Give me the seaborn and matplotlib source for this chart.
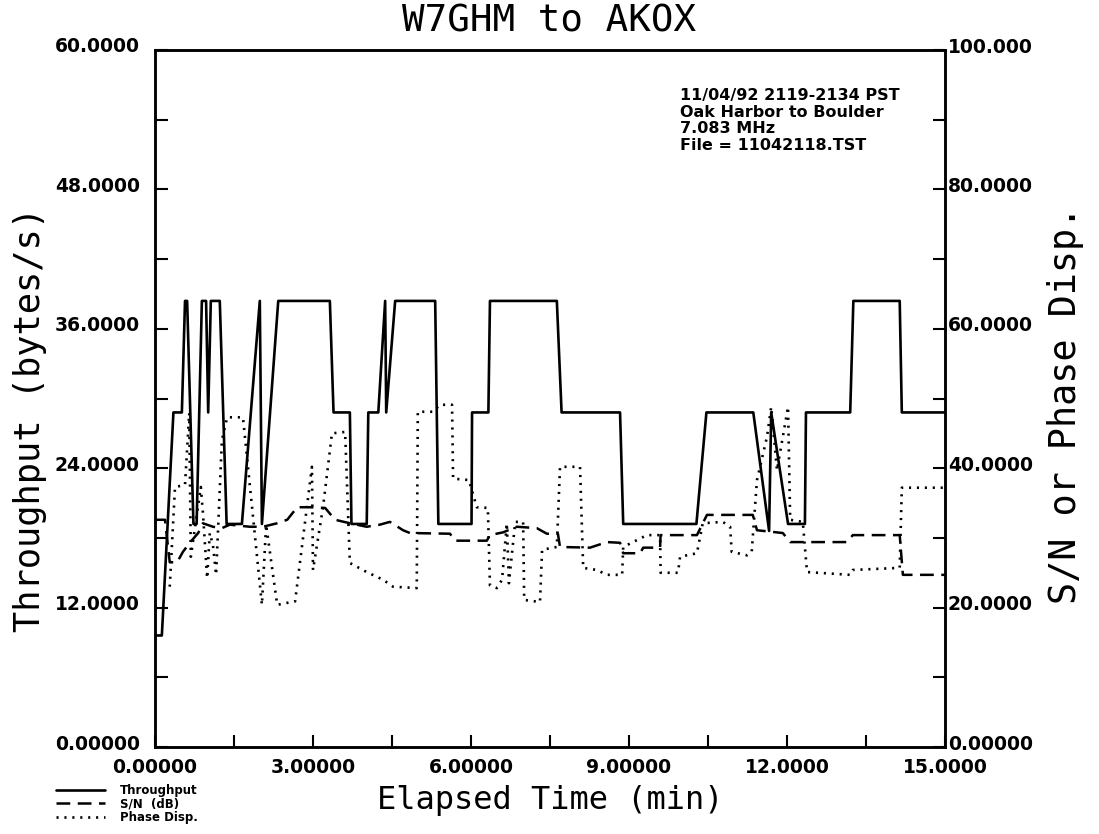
import numpy as np
import pandas as pd
import seaborn as sns
import matplotlib.pyplot as plt
import matplotlib.transforms as mtrans
from matplotlib.ticker import MultipleLocator, FuncFormatter

# throughput (bytes/s), left axis
tp_time = [0.00, 0.13, 0.35, 0.51, 0.57, 0.61, 0.73, 0.79, 0.89, 0.97, 1.01, 1.06, 1.23, 1.36,
           1.65, 1.99, 2.03, 2.34, 3.32, 3.39, 3.70, 3.73, 4.02, 4.05, 4.24, 4.37, 4.39, 4.56,
           5.32, 5.38, 6.01, 6.02, 6.33, 6.36, 7.63, 7.72, 8.83, 8.89, 10.28, 10.47, 11.36,
           11.66, 11.70, 12.02, 12.34, 12.36, 13.20, 13.26, 14.14, 14.18, 15.00]
tp_val = [9.6, 9.6, 28.8, 28.8, 38.4, 38.4, 19.2, 19.2, 38.4, 38.4, 28.8, 38.4, 38.4, 19.2,
          19.2, 38.4, 19.2, 38.4, 38.4, 28.8, 28.8, 19.2, 19.2, 28.8, 28.8, 38.4, 28.8, 38.4,
          38.4, 19.2, 19.2, 28.8, 28.8, 38.4, 38.4, 28.8, 28.8, 19.2, 19.2, 28.8, 28.8,
          18.6, 28.8, 19.2, 19.2, 28.8, 28.8, 38.4, 38.4, 28.8, 28.8]

# S/N (dB), right axis
sn_time = [0.00, 0.19, 0.28, 0.42, 0.53, 0.66, 0.82, 0.91, 1.10, 1.27, 1.42, 1.80, 2.05, 2.32,
           2.51, 2.70, 2.94, 3.23, 3.42, 3.70, 4.02, 4.27, 4.46, 4.71, 4.84, 5.60, 5.70, 6.30,
           6.36, 6.61, 6.87, 7.25, 7.44, 7.65, 7.69, 8.26, 8.58, 8.83, 8.89, 9.21, 9.27, 9.59,
           9.60, 10.29, 10.48, 11.35, 11.43, 11.92, 12.06, 13.14, 13.25, 14.14, 14.20, 15.00]
sn_val = [32.6, 32.6, 26.5, 26.5, 28.0, 29.3, 30.7, 32.1, 31.6, 31.4, 31.9, 31.6, 31.6, 32.1,
          32.6, 34.4, 34.4, 34.3, 32.6, 32.1, 31.6, 31.9, 32.3, 31.1, 30.7, 30.6, 29.6, 29.6,
          30.4, 30.8, 31.6, 31.4, 30.6, 30.6, 28.7, 28.6, 29.4, 29.3, 27.8, 27.8, 28.6, 28.6,
          30.4, 30.4, 33.3, 33.3, 31.1, 30.7, 29.4, 29.4, 30.4, 30.4, 24.7, 24.7]

# phase dispersion, right axis
ph_time = [0.28, 0.38, 0.57, 0.65, 0.68, 0.87, 0.91, 0.99, 1.04, 1.10, 1.16, 1.27, 1.37, 1.67,
           2.03, 2.11, 2.32, 2.66, 2.98, 3.00, 3.19, 3.36, 3.61, 3.70, 4.02, 4.33, 4.52, 4.97,
           4.99, 5.28, 5.41, 5.64, 5.66, 5.96, 6.11, 6.32, 6.36, 6.49, 6.59, 6.68, 6.72, 6.84,
           6.99, 7.01, 7.31, 7.35, 7.63, 7.69, 8.07, 8.13, 8.39, 8.58, 8.87, 8.89, 9.34, 9.59,
           9.60, 9.93, 9.97, 10.29, 10.40, 10.78, 10.92, 10.95, 11.24, 11.33, 11.43, 11.62,
           11.70, 11.81, 12.02, 12.06, 12.30, 12.38, 13.20, 13.25, 14.14, 14.18, 15.00]
ph_val = [23.0, 37.3, 37.6, 47.9, 27.3, 37.3, 33.6, 24.2, 30.7, 29.0, 24.7, 44.0, 47.3, 47.3,
          20.4, 31.9, 20.4, 20.9, 40.2, 25.4, 34.4, 45.0, 45.2, 26.4, 25.1, 24.0, 23.0, 22.8,
          48.1, 48.1, 49.1, 49.1, 38.5, 38.3, 34.4, 34.3, 23.2, 22.8, 24.0, 32.1, 23.5, 32.3,
          32.3, 21.1, 20.8, 28.3, 28.7, 40.2, 40.2, 25.7, 25.4, 24.7, 24.7, 28.7, 30.4, 30.4,
          25.0, 25.0, 27.3, 27.8, 32.1, 32.3, 31.6, 28.0, 27.5, 28.0, 38.3, 44.5,
          48.8, 39.7, 48.8, 32.6, 32.3, 25.1, 24.7, 25.4, 25.7, 37.2, 37.2]

tp = pd.DataFrame({'time': tp_time, 'val': tp_val})
sn = pd.DataFrame({'time': sn_time, 'val': sn_val})
ph = pd.DataFrame({'time': ph_time, 'val': ph_val})

sns.set_style('ticks')
plt.rcParams.update({'text.color': 'black', 'axes.labelcolor': 'black',
                     'xtick.color': 'black', 'ytick.color': 'black'})
mono = 'DejaVu Sans Mono'

fig = plt.figure(figsize=(10.99, 8.34), dpi=100)
ax = fig.add_axes([155 / 1099, 1 - 747 / 834, 790 / 1099, 697 / 834])
ax2 = ax.twinx()

sns.lineplot(data=tp, x='time', y='val', ax=ax, color='black', lw=1.9,
             sort=False, estimator=None, label='Throughput', legend=False)
sns.lineplot(data=sn, x='time', y='val', ax=ax2, color='black', lw=1.8,
             sort=False, estimator=None, label='S/N (dB)', legend=False)
sns.lineplot(data=ph, x='time', y='val', ax=ax2, color='black', lw=1.9,
             sort=False, estimator=None, label='Phase Disp.', legend=False)
ax2.lines[0].set_linestyle((0, (5.5, 3)))
ax2.lines[1].set_linestyle((0, (0.8, 2.2)))

ax.set_xlim(0, 15)
ax.set_ylim(0, 60)
ax2.set_ylim(0, 100)

fmt = FuncFormatter(lambda v, p: f'{v:#.6g}')
ax.xaxis.set_major_locator(MultipleLocator(3))
ax.xaxis.set_minor_locator(MultipleLocator(1.5))
ax.yaxis.set_major_locator(MultipleLocator(12))
ax.yaxis.set_minor_locator(MultipleLocator(6))
ax2.yaxis.set_major_locator(MultipleLocator(20))
ax2.yaxis.set_minor_locator(MultipleLocator(10))
for a in (ax.xaxis, ax.yaxis, ax2.yaxis):
    a.set_major_formatter(fmt)

tick_font = dict(family='DejaVu Sans', weight='bold', size=13.5)
ax.tick_params(axis='both', which='both', direction='in', length=9, width=1.5, colors='black')
ax2.tick_params(axis='y', which='both', direction='in', length=9, width=1.5, colors='black')
ax.tick_params(axis='y', pad=11)
ax.tick_params(axis='x', pad=8)
ax2.tick_params(axis='y', pad=2)
lift = mtrans.ScaledTranslation(0, 5 / 100, fig.dpi_scale_trans)
for lab in ax.get_yticklabels() + ax2.get_yticklabels():
    lab.set_fontproperties(tick_font)
    lab.set_transform(lab.get_transform() + lift)
for lab in ax.get_xticklabels():
    lab.set_fontproperties(tick_font)

for a in (ax, ax2):
    for s in a.spines.values():
        s.set_visible(True)
        s.set_linewidth(1.8)
        s.set_color('black')

ax.set_xlabel('Elapsed Time (min)', family=mono, fontsize=23)
ax.xaxis.set_label_coords(0.5, -(800 - 747) / 697)
ax.set_ylabel('Throughput (bytes/s)', family=mono, fontsize=25.5)
ax.yaxis.set_label_coords(-(155 - 30) / 790, (747 - 420) / 697)
ax2.set_ylabel('S/N or Phase Disp.', family=mono, fontsize=26.5, rotation=90)
ax2.yaxis.set_label_coords((1065 - 155) / 790, (747 - 405) / 697)
ax.xaxis.label.set_va('center')
ax.yaxis.label.set_va('center')
ax2.yaxis.label.set_va('center')
fig.text(0.5, 1 - 22 / 834, 'W7GHM to AKOX', family=mono, fontsize=27,
         ha='center', va='center')

ax.text(0.665, 0.945, '11/04/92 2119-2134 PST\nOak Harbor to Boulder\n7.083 MHz\nFile = 11042118.TST',
        transform=ax.transAxes, ha='left', va='top', family='DejaVu Sans',
        weight='bold', fontsize=11.5, linespacing=1.12)

handles = ax.get_lines()[:1] + ax2.get_lines()[:2]
fig.legend(handles, ['Throughput', 'S/N  (dB)', 'Phase Disp.'],
           loc='upper left', bbox_to_anchor=(50 / 1099, 1 - 778 / 834),
           frameon=False, prop=dict(family='DejaVu Sans', weight='bold', size=8.5),
           labelspacing=0.05, handlelength=4.2, handletextpad=1.2, borderpad=0)

fig.savefig('out.png', dpi=100)
